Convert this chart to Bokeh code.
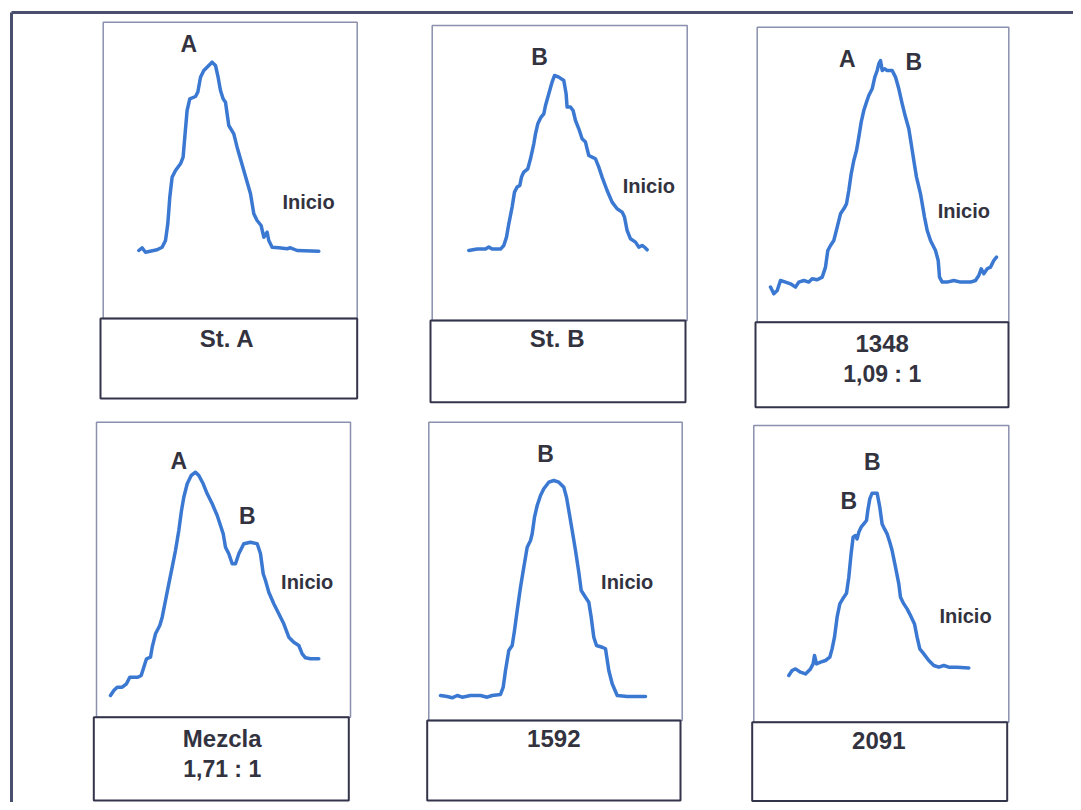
from bokeh.plotting import figure
from bokeh.models import Range1d
from bokeh.core.properties import value
from bokeh.embed import file_html
from bokeh.resources import INLINE

# ---------------- data: densitometry traces (position along strip, density) ----------------
st_a_pos = [0, 3.3, 6.7, 18.3, 23.3, 26.7, 29, 31, 33.3, 36.7, 41.7, 44.3, 46, 48.3, 51, 56.7, 59, 61.7, 65, 70,
            73.3, 76.7, 79.3, 81.7, 84.3, 86.7, 88.3, 90, 95, 98.3, 105, 111.7, 115, 118.3, 122.3, 125, 128.3,
            130, 133.3, 140, 148.3, 151.7, 158.3, 180]
st_a_dens = [0, 2.7, -1.7, 0.7, 3.3, 10, 26.7, 53.3, 73.3, 80, 86.7, 93.3, 113.3, 140, 151.7, 154, 158.3, 173.3,
             180, 185, 188.3, 185, 173.3, 160, 151.7, 148.3, 136.7, 125, 116.7, 103.3, 80, 56.7, 36.7, 30, 25,
             13.3, 18.3, 10, 3.3, 2.7, 1.7, 2.7, 0, -0.7]

st_b_pos = [0, 8.3, 16.7, 20, 23.3, 31.7, 35, 37.7, 40, 43.3, 45.7, 48.3, 51, 52.7, 55, 59, 61.7, 65, 66.7, 69,
            72.3, 75, 76.7, 80, 83.3, 85.7, 90, 95, 97.3, 98.3, 101.7, 104.3, 106.7, 110, 113.3, 116.7, 118.3,
            120, 123.3, 126.7, 130, 133.3, 138.3, 143.3, 148.3, 153.3, 155.7, 158.3, 161.7, 166.7, 170, 173.3,
            175.7, 178.3]
st_b_dens = [-0.7, 0.7, 0.7, 2.7, 0.7, 0.7, 4.3, 12.7, 26, 42.7, 57.7, 62.7, 64.3, 72.7, 77.7, 81, 91, 106, 116,
             126, 132.7, 136, 144.3, 156, 167.7, 174.3, 172.7, 169.3, 156, 142.7, 142.7, 139.3, 129.3, 121, 111,
             107.7, 101, 94.3, 92.7, 91, 82.7, 72.7, 59.3, 47.7, 41, 37.7, 32.7, 19.3, 11, 7.7, 2.7, 4.3, 2.7, 0]

s1348_pos = [0, 3.3, 6.7, 10, 15, 20, 25, 28.3, 33.3, 38.3, 41.7, 46.7, 51.7, 55, 57.3, 60, 63.3, 66.7, 70, 73.3,
             76, 78.3, 80.7, 83.3, 86, 88.3, 90.7, 93.3, 96, 98.3, 101.7, 104.3, 106.7, 108.3, 110, 111.7, 114,
             116.7, 121.7, 125, 128.3, 131.7, 135, 138.3, 140.7, 143.3, 146, 150, 154, 156.7, 160, 165, 167.7,
             169, 171.7, 176.7, 183.3, 190, 200, 205, 208.3, 210.7, 213.3, 216.7, 220, 223.3, 226]
s1348_dens = [-3.3, -10, -6.7, 3.3, 1.7, 0, -3.3, 1.7, 3.3, 1.7, 5, 4, 6.7, 16.7, 33.3, 38.3, 43.3, 56.7, 70, 75,
              80, 93.3, 110, 123.3, 133.3, 146.7, 161.7, 173.3, 181.7, 188.3, 195, 206.7, 213.3, 220, 223.3,
              213.3, 215, 213.3, 213.3, 206.7, 195, 180, 166.7, 155, 140, 123.3, 106.7, 90, 66.7, 53.3, 43.3,
              33.3, 23.3, 6.7, 1.7, 1.7, 3.3, 1.7, 1.7, 3.3, 8.3, 15, 10, 15, 16.7, 23.3, 26.7]

mezcla_pos = [0, 3.3, 6.7, 11.7, 16, 19.3, 23.3, 27.3, 30.7, 33.3, 36, 40, 41.7, 45, 49.3, 51.7, 55, 58.3, 61.7,
              65, 68.3, 71, 73.3, 76.7, 80.7, 85, 88.3, 92.7, 96.7, 101.7, 106.7, 110, 112.7, 115, 118.3, 121.7,
              125, 128.3, 133.3, 140, 146.7, 150, 152.7, 155, 158.3, 163.3, 168.3, 173.3, 178.3, 183.3, 188.3,
              191.7, 195, 200, 208.3]
mezcla_dens = [0, 5, 8.3, 8.3, 11.7, 18.3, 18.3, 18.3, 20, 28.3, 36.7, 38.3, 48.3, 61.7, 70, 78.3, 95, 111.7,
               128.3, 145, 165, 185, 198.3, 211.7, 220, 223.3, 220, 211.7, 201.7, 191.7, 180, 170, 161.7, 148.3,
               141.7, 131.7, 131.7, 141.7, 151.7, 153.3, 151.7, 141.7, 121.7, 115, 103.3, 91.7, 81.7, 71.7, 58.3,
               53.3, 50, 41.7, 37.7, 36.7, 36.7]

s1592_pos = [0, 6.7, 11.7, 16.7, 21.7, 30, 40, 46.7, 51.7, 60, 62.7, 65, 68.3, 71.7, 74, 76.7, 80, 83.3, 86.7, 90,
             91.7, 94, 96.7, 100, 103.3, 108.3, 113.3, 118.3, 123.3, 126, 128.3, 131.7, 135, 138.3, 140.7, 145,
             148.3, 150.7, 153.3, 156, 161.7, 165, 168.3, 171.7, 176.7, 186.7, 205]
s1592_dens = [0, -1, -2.3, 0, -1.7, 0, 0, -1.7, 0, 1, 8.3, 25, 45, 50, 65, 85, 108.3, 128.3, 148.3, 155, 161.7,
              178.3, 190, 200, 206.7, 213.3, 215, 213.3, 208.3, 198.3, 185, 165, 145, 123.3, 105, 98.3, 93.3,
              78.3, 58.3, 50, 48.3, 46.7, 25, 11.7, 0, -1, -1]

s2091_pos = [0, 3.3, 6.7, 11.7, 16.7, 21.7, 24.3, 25.7, 27.7, 31.7, 36.7, 41, 43.3, 45.7, 48.3, 51, 55, 57.7, 60,
             62.3, 64.3, 66.7, 68.3, 70, 72.3, 75, 77.7, 79, 81, 83.3, 88.3, 91, 93.3, 95.7, 98.3, 101, 103.3,
             106.7, 110, 111.7, 115, 118.3, 121.7, 125.7, 128.3, 131, 135, 140, 145, 150, 155, 160, 168.3, 180]
s2091_dens = [-8.3, -3.3, -1.7, -5, -6.7, -1.7, 3.3, 11.7, 3.3, 5, 6.7, 10, 18.3, 30, 50, 63.3, 70, 74, 90, 113.3,
              130, 131.7, 128.3, 135, 140, 143.3, 146.7, 156.7, 168.3, 174, 174, 160, 143.3, 138.3, 133.3, 125,
              116.7, 100, 83.3, 70, 63.3, 58.3, 51.7, 43.3, 30, 18.3, 13.3, 6.7, 1.7, 0, 1.7, 0, 0, -0.7]

# ---------------- texts ----------------
sample_names = ["St. A", "St. B", "1348", "Mezcla", "1592", "2091"]
sample_ratios = ["", "", "1,09 : 1", "1,71 : 1", "", ""]
peak_labels = [["A"], ["B"], ["A", "B"], ["A", "B"], ["B"], ["B", "B"]]
start_label = "Inicio"

traces = [(st_a_pos, st_a_dens), (st_b_pos, st_b_dens), (s1348_pos, s1348_dens),
          (mezcla_pos, mezcla_dens), (s1592_pos, s1592_dens), (s2091_pos, s2091_dens)]

# ---------------- layout (picture pixel coordinates) ----------------
W, H = 1073, 802
# trace box (l, r, t, b), label box (l, r, t, b)
trace_boxes = [(102.7, 356.7, 21.7, 318), (431.7, 686.7, 25, 320), (756.7, 1008.3, 26.7, 321.7),
               (96, 350, 421.7, 716.7), (428.3, 681.7, 421.7, 720), (753.3, 1008.3, 425, 721.7)]
label_boxes = [(100, 356.7, 318, 398), (430, 685, 320, 401.7), (755, 1008, 321.7, 406.7),
               (93.3, 348.3, 716.7, 800), (426.7, 680, 720, 800), (751.7, 1006.7, 721.7, 800.5)]
# where position 0 / density 0 of each trace lands (1 data unit = 1 px)
trace_origin = [(138.3, 250), (468.3, 249.3), (770, 283.3), (110, 695), (440, 695), (788.3, 666.7)]
peak_label_xy = [[(188.3, 43.3)], [(539, 56.7)], [(846.7, 58.3), (913.3, 61.7)],
                 [(178.3, 460), (246.7, 515)], [(545, 453.3)], [(871.7, 461.7), (848.3, 500)]]
inicio_xy = [(308, 201.7), (648.3, 185), (963.3, 210), (306.7, 581.7), (626.7, 581.7), (965, 615)]
name_xy = [(226.7, 338), (556.7, 338.3), (881.7, 343.3), (221.7, 738.3), (553.3, 738.3), (878.3, 740)]
ratio_dy = 30

TRACE_COLOR = "#3a78d2"
TEXT_COLOR = "#33333f"
FONT = value("Liberation Sans")

p = figure(width=W, height=H, x_range=Range1d(0, W), y_range=Range1d(H, 0),
           output_backend="svg", toolbar_location=None, min_border=0,
           x_axis_location=None, y_axis_location=None)
p.grid.visible = False
p.outline_line_color = None
p.background_fill_color = "white"
p.border_fill_color = "white"

# outer frame (left and top edges visible on the page)
p.line([11, 11], [12, H], line_color="#4b4f6e", line_width=3)
p.line([11, W], [12, 12], line_color="#4b4f6e", line_width=3)

for i, (pos, dens) in enumerate(traces):
    tl, tr, tt, tb = trace_boxes[i]
    p.quad(left=[tl], right=[tr], top=[tt], bottom=[tb], fill_color=None,
           line_color="#8a90ad", line_width=1.5)
    ll, lr, lt, lb = label_boxes[i]
    p.quad(left=[ll], right=[lr], top=[lt], bottom=[lb], fill_color=None,
           line_color="#33344a", line_width=2)

    ox, oy = trace_origin[i]
    p.extra_x_ranges[f"x{i}"] = Range1d(-ox, W - ox)
    p.extra_y_ranges[f"y{i}"] = Range1d(oy - H, oy)
    p.line(pos, dens, x_range_name=f"x{i}", y_range_name=f"y{i}",
           line_color=TRACE_COLOR, line_width=3.5, line_join="round", line_cap="round")

    lx = [xy[0] for xy in peak_label_xy[i]]
    ly = [xy[1] for xy in peak_label_xy[i]]
    p.text(lx, ly, text=peak_labels[i], text_font=FONT, text_font_size="23px", text_font_style="bold",
           text_color=TEXT_COLOR, text_align="center", text_baseline="middle")
    p.text([inicio_xy[i][0]], [inicio_xy[i][1]], text=[start_label], text_font=FONT, text_font_style="bold",
           text_font_size="20px", text_color=TEXT_COLOR, text_align="center", text_baseline="middle")
    nx, ny = name_xy[i]
    p.text([nx], [ny], text=[sample_names[i]], text_font=FONT, text_font_size="24px", text_font_style="bold",
           text_color=TEXT_COLOR, text_align="center", text_baseline="middle")
    if sample_ratios[i]:
        p.text([nx], [ny + ratio_dy], text=[sample_ratios[i]], text_font=FONT, text_font_size="23px",
               text_font_style="bold", text_color=TEXT_COLOR, text_align="center", text_baseline="middle")

open("out.html", "w").write(file_html(p, INLINE))
